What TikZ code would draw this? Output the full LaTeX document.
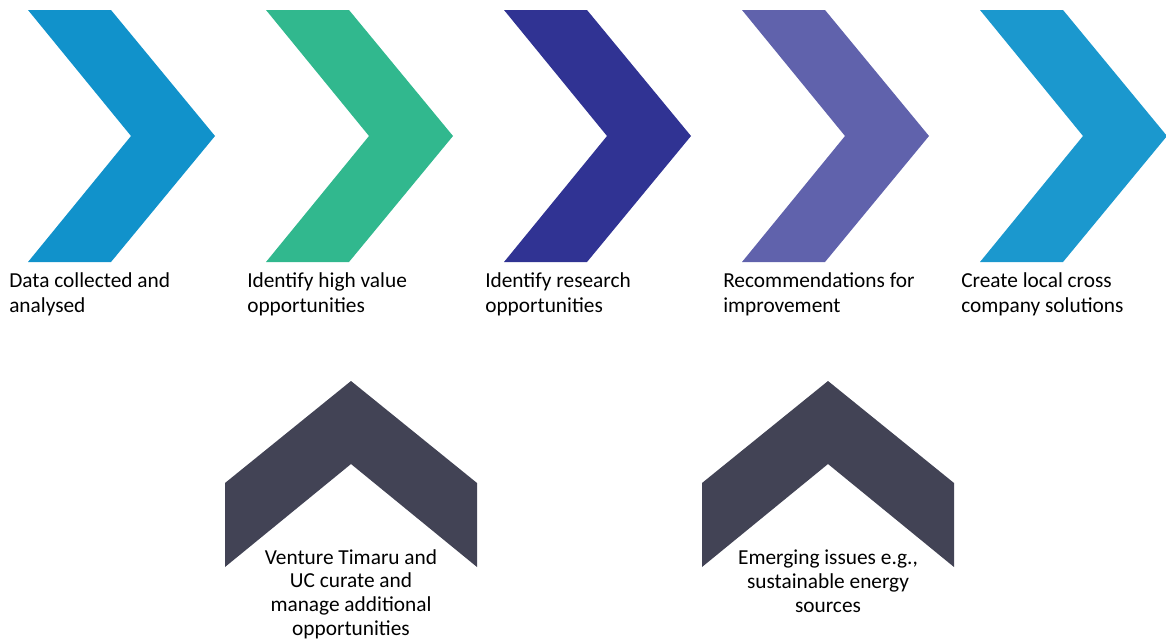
\documentclass[tikz,border=0pt]{standalone}
\usepackage{fontspec}
\setmainfont{Carlito}
\usepackage{tikz}
\usetikzlibrary{positioning}
\definecolor{stepblue}{RGB}{17,146,203}
\definecolor{stepgreen}{RGB}{49,184,142}
\definecolor{stepnavy}{RGB}{48,51,147}
\definecolor{steppurple}{RGB}{96,98,172}
\definecolor{stepsky}{RGB}{27,152,206}
\definecolor{slate}{RGB}{66,67,85}
\tikzset{
	toplabel/.style={anchor=base west, align=left, inner sep=0pt, font=\fontsize{16}{18.7}\selectfont},
	lowlabel/.style={anchor=base, align=center, inner sep=0pt, font=\fontsize{16}{17.7}\selectfont}
}
\begin{document}
\begin{tikzpicture}[x=0.75pt, y=-0.75pt]
		\useasboundingbox (0,0) rectangle (1166,639);
		
		%chevrons
		\fill[stepblue]   (28,10)  -- (111,10)  -- (215,136) -- (111,262) -- (28,262)  -- (131,136) -- cycle;
		\fill[stepgreen]  (266,10) -- (349,10)  -- (453,136) -- (349,262) -- (266,262) -- (369,136) -- cycle;
		\fill[stepnavy]   (504,10) -- (587,10)  -- (691,136) -- (587,262) -- (504,262) -- (607,136) -- cycle;
		\fill[steppurple] (742,10) -- (825,10)  -- (929,136) -- (825,262) -- (742,262) -- (845,136) -- cycle;
		\fill[stepsky]    (980,10) -- (1063,10) -- (1167,136) -- (1063,262) -- (980,262) -- (1083,136) -- cycle;
		
		\fill[slate] (351,381) -- (477,483) -- (477,567) -- (351,464) -- (225,567) -- (225,483) -- cycle;
		\fill[slate] (828,381) -- (954,483) -- (954,567) -- (828,464) -- (702,567) -- (702,483) -- cycle;
		
		%text (anchored at the last line)
		\node[toplabel] at (9,312)   (data)     {Data collected and\\analysed};
		\node[toplabel] at (247,312) (value)    {Identify high value\\opportunities};
		\node[toplabel] at (485,312) (research) {Identify research\\opportunities};
		\node[toplabel] at (723,312) (improve)  {Recommendations for\\improvement};
		\node[toplabel] at (961,312) (local)    {Create local cross\\company solutions};
		
		\node[lowlabel] at (351,635) (venture)  {Venture Timaru and\\UC curate and\\manage additional\\opportunities};
		\node[lowlabel] at (828,612) (emerging) {Emerging issues e.g.,\\sustainable energy\\sources};
		
	\end{tikzpicture}
\end{document}
